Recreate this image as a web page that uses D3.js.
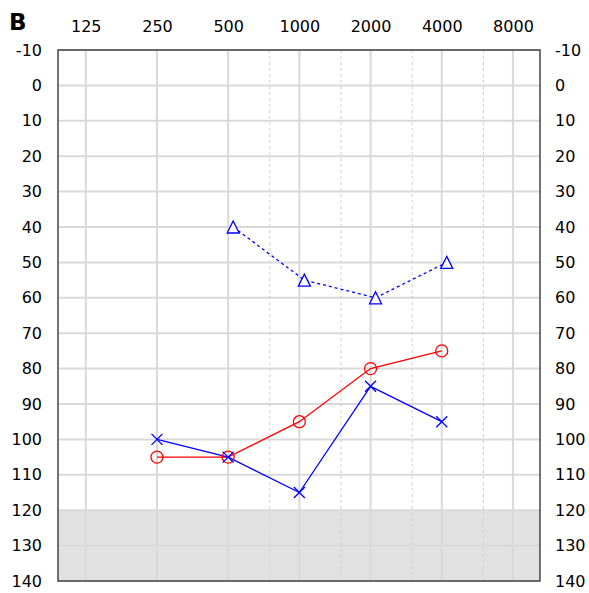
<!DOCTYPE html>
<html lang="en">
<head>
    <meta charset="UTF-8">
    <title>Audiogram B</title>
    <script src="https://d3js.org/d3.v7.min.js"></script>
    <style>
        body { margin: 0; background: #fff; }
        text { font-family: "DejaVu Sans", Verdana, sans-serif; fill: #000; }
    </style>
</head>
<body>
<svg width="589" height="593"></svg>
<script>

    // frequencies (Hz) and hearing levels (dB)
    var freqs = [125, 250, 500, 1000, 2000, 4000, 8000];
    var halfFreqs = [750, 1500, 3000, 6000];
    var dbTicks = [-10, 0, 10, 20, 30, 40, 50, 60, 70, 80, 90, 100, 110, 120, 130, 140];

    var redFreqs = [250, 500, 1000, 2000, 4000];
    var redValues = [105, 105, 95, 80, 75];

    var blueFreqs = [250, 500, 1000, 2000, 4000];
    var blueValues = [100, 105, 115, 85, 95];

    var boneFreqs = [500, 1000, 2000, 4000];
    var boneValues = [40, 55, 60, 50];

    var shadeFrom = 120;

    // plot box (note: "top" is reserved on window, so use other names)
    var svg = d3.select("svg"),
        boxL = 58, boxR = 540, boxT = 50, boxB = 581;

    var x = d3.scaleLog().base(2)
        .domain([125 / Math.pow(2, 0.39), 8000 * Math.pow(2, 0.38)])
        .range([boxL, boxR]);
    var y = d3.scaleLinear().domain([-10, 140]).range([boxT, boxB]);

    // shaded region beyond the limit
    svg.append("rect")
        .attr("x", boxL).attr("y", y(shadeFrom))
        .attr("width", boxR - boxL).attr("height", y(140) - y(shadeFrom))
        .attr("fill", "#e1e1e1");

    // grid
    var grid = svg.append("g");
    grid.selectAll(".hl").data(dbTicks).enter().append("line")
        .attr("x1", boxL).attr("x2", boxR)
        .attr("y1", function (d) { return y(d); })
        .attr("y2", function (d) { return y(d); })
        .attr("stroke", "#d9d9d9").attr("stroke-width", 2);
    grid.selectAll(".vl").data(freqs).enter().append("line")
        .attr("x1", function (d) { return x(d); })
        .attr("x2", function (d) { return x(d); })
        .attr("y1", boxT).attr("y2", boxB)
        .attr("stroke", "#d9d9d9").attr("stroke-width", 2);
    grid.selectAll(".vd").data(halfFreqs).enter().append("line")
        .attr("x1", function (d) { return x(d); })
        .attr("x2", function (d) { return x(d); })
        .attr("y1", boxT).attr("y2", boxB)
        .attr("stroke", "#cfcfcf").attr("stroke-width", 1)
        .attr("stroke-dasharray", "3,3");

    // frame
    svg.append("rect")
        .attr("x", boxL).attr("y", boxT)
        .attr("width", boxR - boxL).attr("height", boxB - boxT)
        .attr("fill", "none").attr("stroke", "#444").attr("stroke-width", 1.5);

    // axes (plain hyphen for the minus sign, as in the source)
    var fmt = function (d) { return String(d); };
    var topAxis = d3.axisTop(x).tickValues(freqs).tickSize(0).tickPadding(0)
        .tickFormat(fmt);
    var gt = svg.append("g").attr("transform", "translate(0,32)").call(topAxis);
    var leftAxis = d3.axisLeft(y).tickValues(dbTicks).tickSize(0).tickPadding(0)
        .tickFormat(fmt);
    var gl = svg.append("g").attr("transform", "translate(42,0)").call(leftAxis);
    var rightAxis = d3.axisRight(y).tickValues(dbTicks).tickSize(0).tickPadding(0)
        .tickFormat(fmt);
    var gr = svg.append("g").attr("transform", "translate(555,0)").call(rightAxis);

    [gt, gl, gr].forEach(function (g) {
        g.select(".domain").remove();
        g.selectAll("text")
            .attr("font-family", "DejaVu Sans, sans-serif")
            .attr("font-size", 16).attr("fill", "#000");
    });
    gt.selectAll("text").attr("dy", 0);

    svg.append("text").attr("x", 9).attr("y", 30)
        .attr("font-size", 23).attr("font-weight", "bold").text("B");

    var line = d3.line();

    // bone conduction (dashed, triangles, shifted a bit right)
    var bonePts = boneFreqs.map(function (f, i) { return [x(f) + 5, y(boneValues[i])]; });
    svg.append("path").attr("d", line(bonePts))
        .attr("fill", "none").attr("stroke", "#0000ff").attr("stroke-width", 1.3)
        .attr("stroke-dasharray", "3,3");
    svg.selectAll(".tri").data(bonePts).enter().append("path")
        .attr("d", function (d) {
            return "M" + d[0] + "," + (d[1] - 6) + "L" + (d[0] + 6) + "," + (d[1] + 6) +
                "L" + (d[0] - 6) + "," + (d[1] + 6) + "Z";
        })
        .attr("fill", "#fff").attr("stroke", "#0000ff").attr("stroke-width", 1.3);

    // red series with circles
    var redPts = redFreqs.map(function (f, i) { return [x(f), y(redValues[i])]; });
    svg.append("path").attr("d", line(redPts))
        .attr("fill", "none").attr("stroke", "#ff0000").attr("stroke-width", 1.3);

    // blue series with crosses
    var bluePts = blueFreqs.map(function (f, i) { return [x(f), y(blueValues[i])]; });
    svg.append("path").attr("d", line(bluePts))
        .attr("fill", "none").attr("stroke", "#0000ff").attr("stroke-width", 1.3);

    svg.selectAll(".circ").data(redPts).enter().append("circle")
        .attr("cx", function (d) { return d[0]; })
        .attr("cy", function (d) { return d[1]; })
        .attr("r", 6)
        .attr("fill", "none").attr("stroke", "#ff0000").attr("stroke-width", 1.3);

    svg.selectAll(".cross").data(bluePts).enter().append("path")
        .attr("d", function (d) {
            var s = 5.5;
            return "M" + (d[0] - s) + "," + (d[1] - s) + "L" + (d[0] + s) + "," + (d[1] + s) +
                "M" + (d[0] + s) + "," + (d[1] - s) + "L" + (d[0] - s) + "," + (d[1] + s);
        })
        .attr("stroke", "#0000ff").attr("stroke-width", 1.3);

</script>
</body>
</html>
